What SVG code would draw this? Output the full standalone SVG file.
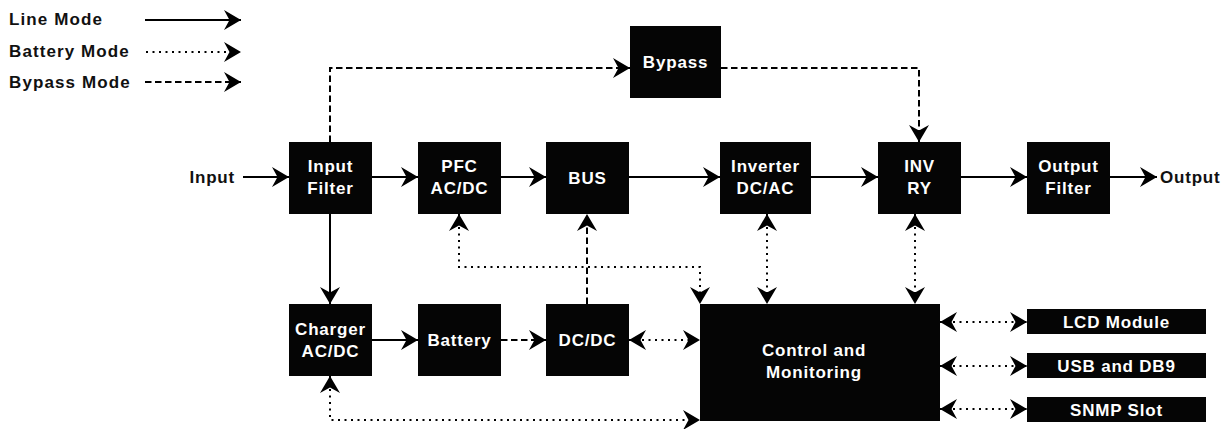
<svg xmlns="http://www.w3.org/2000/svg" width="1227" height="429" viewBox="0 0 1227 429">
<style>
.box{fill:#050505}
.bt{font-family:"Liberation Sans",Arial,sans-serif;font-weight:bold;font-size:17px;fill:#fff;text-anchor:middle;letter-spacing:0.8px}
.lt{font-family:"Liberation Sans",Arial,sans-serif;font-weight:bold;font-size:17px;fill:#111;letter-spacing:1.1px}
.solid{stroke:#000;stroke-width:2;fill:none}
.dot{stroke:#000;stroke-width:2;fill:none;stroke-dasharray:2 4.5}
.dash{stroke:#000;stroke-width:2;fill:none;stroke-dasharray:6.5 3.5}
.a{marker-end:url(#ah)}
.aa{marker-end:url(#ah);marker-start:url(#ahs)}
</style>
<defs>
<marker id="ah" viewBox="-18 -11 19 22" refX="0" refY="0" markerWidth="19" markerHeight="22" markerUnits="userSpaceOnUse" orient="auto">
<path d="M0,0 L-17,-10 L-11.5,0 L-17,10 Z" fill="#000"/>
</marker>
<marker id="ahs" viewBox="-18 -11 19 22" refX="0" refY="0" markerWidth="19" markerHeight="22" markerUnits="userSpaceOnUse" orient="auto-start-reverse">
<path d="M0,0 L-17,-10 L-11.5,0 L-17,10 Z" fill="#000"/>
</marker>
</defs>

<g id="legend">
<text class="lt" x="9" y="25">Line Mode</text>
<text class="lt" x="9" y="57">Battery Mode</text>
<text class="lt" x="9" y="88">Bypass Mode</text>
<line class="solid a" x1="145" y1="20" x2="241" y2="20"/>
<line class="dot a" x1="146" y1="52" x2="241" y2="52"/>
<line class="dash a" x1="145" y1="82" x2="241" y2="82"/>
</g>

<g id="connectors">
<!-- main line -->
<line class="solid a" x1="243" y1="177" x2="289" y2="177"/>
<line class="solid a" x1="372" y1="177" x2="418" y2="177"/>
<line class="solid a" x1="501" y1="177" x2="546" y2="177"/>
<line class="solid a" x1="629" y1="177" x2="720" y2="177"/>
<line class="solid a" x1="811" y1="177" x2="878" y2="177"/>
<line class="solid a" x1="961" y1="177" x2="1027" y2="177"/>
<line class="solid a" x1="1110" y1="177" x2="1157" y2="177"/>
<!-- bypass -->
<polyline class="dash a" points="330,142 330,68 630,68"/>
<polyline class="dash a" points="721,68 919,68 919,142"/>
<!-- battery path -->
<line class="solid a" x1="330" y1="214" x2="330" y2="304"/>
<line class="solid a" x1="372" y1="340" x2="418" y2="340"/>
<line class="dash a" x1="501" y1="340" x2="546" y2="340"/>
<line class="dash a" x1="587" y1="304" x2="587" y2="214"/>
<!-- control links -->
<polyline class="dot aa" points="459,214 459,267 700,267 700,304"/>
<polyline class="dot aa" points="330,376 330,420 700,420"/>
<line class="dot aa" x1="629" y1="340" x2="700" y2="340"/>
<line class="dot aa" x1="767" y1="214" x2="767" y2="304"/>
<line class="dot aa" x1="915" y1="214" x2="915" y2="304"/>
<line class="dot aa" x1="940" y1="322" x2="1027" y2="322"/>
<line class="dot aa" x1="940" y1="366" x2="1027" y2="366"/>
<line class="dot aa" x1="940" y1="409" x2="1027" y2="409"/>
</g>

<g id="input-label"><text class="lt" x="235" y="183" text-anchor="end" style="letter-spacing:0.8px">Input</text></g>
<g id="output-label"><text class="lt" x="1160" y="183" style="letter-spacing:0.8px">Output</text></g>

<g id="input-filter"><rect class="box" x="289" y="142" width="83" height="72"/><text class="bt" x="330.5" y="172">Input</text><text class="bt" x="330.5" y="194">Filter</text></g>
<g id="pfc"><rect class="box" x="418" y="142" width="83" height="72"/><text class="bt" x="459.5" y="172">PFC</text><text class="bt" x="459.5" y="194">AC/DC</text></g>
<g id="bus"><rect class="box" x="546" y="142" width="83" height="72"/><text class="bt" x="587.5" y="184">BUS</text></g>
<g id="bypass"><rect class="box" x="630" y="26" width="91" height="72"/><text class="bt" x="675.5" y="68">Bypass</text></g>
<g id="inverter"><rect class="box" x="720" y="142" width="91" height="72"/><text class="bt" x="765.5" y="172">Inverter</text><text class="bt" x="765.5" y="194">DC/AC</text></g>
<g id="inv-ry"><rect class="box" x="878" y="142" width="83" height="72"/><text class="bt" x="919.5" y="172">INV</text><text class="bt" x="919.5" y="194">RY</text></g>
<g id="output-filter"><rect class="box" x="1027" y="142" width="83" height="72"/><text class="bt" x="1068.5" y="172">Output</text><text class="bt" x="1068.5" y="194">Filter</text></g>
<g id="charger"><rect class="box" x="289" y="304" width="83" height="72"/><text class="bt" x="330.5" y="335">Charger</text><text class="bt" x="330.5" y="357">AC/DC</text></g>
<g id="battery"><rect class="box" x="418" y="304" width="83" height="72"/><text class="bt" x="459.5" y="346">Battery</text></g>
<g id="dcdc"><rect class="box" x="546" y="304" width="83" height="72"/><text class="bt" x="587.5" y="346">DC/DC</text></g>
<g id="control"><rect class="box" x="700" y="304" width="240" height="117"/><text class="bt" x="814" y="356">Control and</text><text class="bt" x="814" y="378">Monitoring</text></g>
<g id="lcd"><rect class="box" x="1027" y="309" width="179" height="25"/><text class="bt" x="1116.5" y="328">LCD Module</text></g>
<g id="usb"><rect class="box" x="1027" y="353" width="179" height="25"/><text class="bt" x="1116.5" y="372">USB and DB9</text></g>
<g id="snmp"><rect class="box" x="1027" y="397" width="179" height="25"/><text class="bt" x="1116.5" y="416">SNMP Slot</text></g>
</svg>
